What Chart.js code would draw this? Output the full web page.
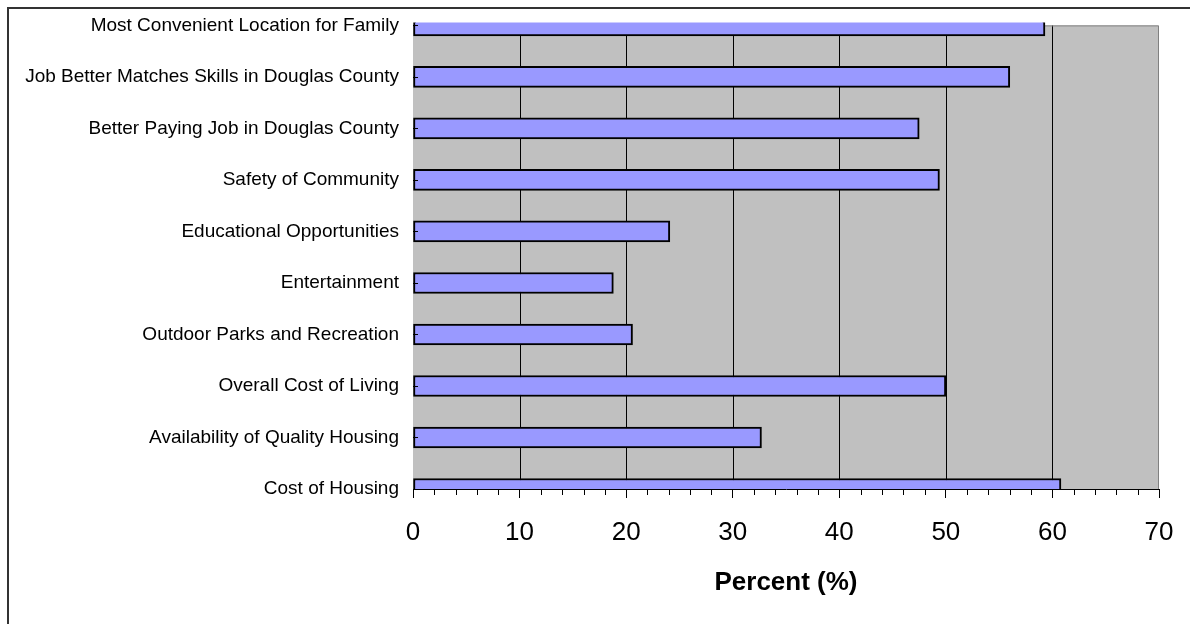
<!DOCTYPE html>
<html>
<head>
<meta charset="utf-8">
<title>Reasons for Living in Douglas County</title>
<script src="https://cdn.jsdelivr.net/npm/chart.js@4.4.1/dist/chart.umd.min.js"></script>
<style>
  body { margin: 0; background: #fff; }
  #frame { position: absolute; left: 7px; top: 7px; width: 1300px; height: 700px;
           border-left: 2px solid #333; border-top: 2px solid #333; }
  #bars { position: absolute; left: 0; top: 0; }
</style>
</head>
<body>
<div id="frame"></div>
<canvas id="bars" width="1190" height="624"></canvas>
<script>
// survey reasons, listed top to bottom as they appear on the axis
var reasons = ["Most Convenient Location for Family",
               "Job Better Matches Skills in Douglas County",
               "Better Paying Job in Douglas County",
               "Safety of Community",
               "Educational Opportunities",
               "Entertainment",
               "Outdoor Parks and Recreation",
               "Overall Cost of Living",
               "Availability of Quality Housing",
               "Cost of Housing"];
// percent of respondents per reason
var percents = [59.3, 56.0, 47.5, 49.4, 24.1, 18.8, 20.6, 50.0, 32.7, 60.8];
// x axis range and label step
var axisMin = 0, axisMax = 70, axisStep = 10, minorStep = 2;

var fontFamily = "Arial, 'Liberation Sans', sans-serif";

// gray plot background plus the top/right frame line
var plotBackground = {
  id: 'plotBackground',
  beforeDatasetsDraw: function(chart) {
    var a = chart.chartArea, ctx = chart.ctx;
    ctx.save();
    ctx.fillStyle = '#C0C0C0';
    ctx.fillRect(a.left, a.top, a.right - a.left, a.bottom - a.top);
    // redraw the vertical gridlines over the fill
    var x = chart.scales.x;
    ctx.lineWidth = 1;
    for (var v = axisMin + axisStep; v < axisMax; v += axisStep) {
      var px = Math.round(x.getPixelForValue(v)) + 0.5;
      ctx.strokeStyle = '#000';
      ctx.beginPath(); ctx.moveTo(px, a.top); ctx.lineTo(px, a.bottom); ctx.stroke();
    }
    ctx.strokeStyle = '#808080';
    ctx.beginPath();
    ctx.moveTo(a.left, a.top + 0.5);
    ctx.lineTo(a.right - 0.5, a.top + 0.5);
    ctx.lineTo(a.right - 0.5, a.bottom);
    ctx.stroke();
    ctx.restore();
  }
};

// minor ticks under the x axis and short inward ticks on the category axis
var extraTicks = {
  id: 'extraTicks',
  afterDatasetsDraw: function(chart) {
    var a = chart.chartArea, ctx = chart.ctx;
    var x = chart.scales.x, y = chart.scales.y;
    ctx.save();
    ctx.strokeStyle = '#000';
    ctx.lineWidth = 1;
    for (var v = axisMin; v <= axisMax; v += minorStep) {
      if (v % axisStep === 0) continue;
      var px = Math.round(x.getPixelForValue(v)) + 0.5;
      ctx.beginPath(); ctx.moveTo(px, a.bottom); ctx.lineTo(px, a.bottom + 6); ctx.stroke();
    }
    for (var i = 0; i < reasons.length; i++) {
      var py = Math.round(y.getPixelForValue(i)) + 0.5;
      ctx.beginPath(); ctx.moveTo(a.left, py); ctx.lineTo(a.left + 5, py); ctx.stroke();
    }
    ctx.restore();
  }
};

var barChart = new Chart(document.getElementById("bars"), {
  type: 'bar',
  data: {
    labels: reasons,
    datasets: [{
      data: percents,
      backgroundColor: '#9999FF',
      borderColor: '#000',
      borderWidth: 2,
      borderSkipped: false,
      barThickness: 21,
      clip: {left: 0, top: 3, right: 0, bottom: 0}
    }]
  },
  options: {
    indexAxis: 'y',
    responsive: false,
    animation: false,
    layout: { padding: { left: 0, top: 25, right: 31, bottom: 0 } },
    plugins: {
      legend: { display: false },
      tooltip: { enabled: false }
    },
    scales: {
      x: {
        min: axisMin,
        max: axisMax,
        afterFit: function(scale) {
          scale.height = 135;
          // the layout padding already leaves room for the end labels
          scale.paddingLeft = 0;
          scale.paddingRight = 0;
        },
        ticks: {
          stepSize: axisStep,
          color: '#000',
          padding: 19,
          font: { family: fontFamily, size: 26 }
        },
        grid: {
          color: 'rgba(0,0,0,0)',
          tickColor: '#000',
          tickLength: 9
        },
        border: { color: '#000', width: 1 },
        title: {
          display: true,
          text: 'Percent (%)',
          color: '#000',
          font: { family: fontFamily, size: 26, weight: 'bold' },
          padding: { top: 0, bottom: 26 }
        }
      },
      y: {
        offset: false,
        afterFit: function(scale) { scale.width = 413; },
        ticks: {
          color: '#000',
          padding: 14,
          font: { family: fontFamily, size: 19 }
        },
        grid: { display: true, drawOnChartArea: false, drawTicks: false },
        border: { color: '#000', width: 1 }
      }
    }
  },
  plugins: [plotBackground, extraTicks]
});
</script>
</body>
</html>
